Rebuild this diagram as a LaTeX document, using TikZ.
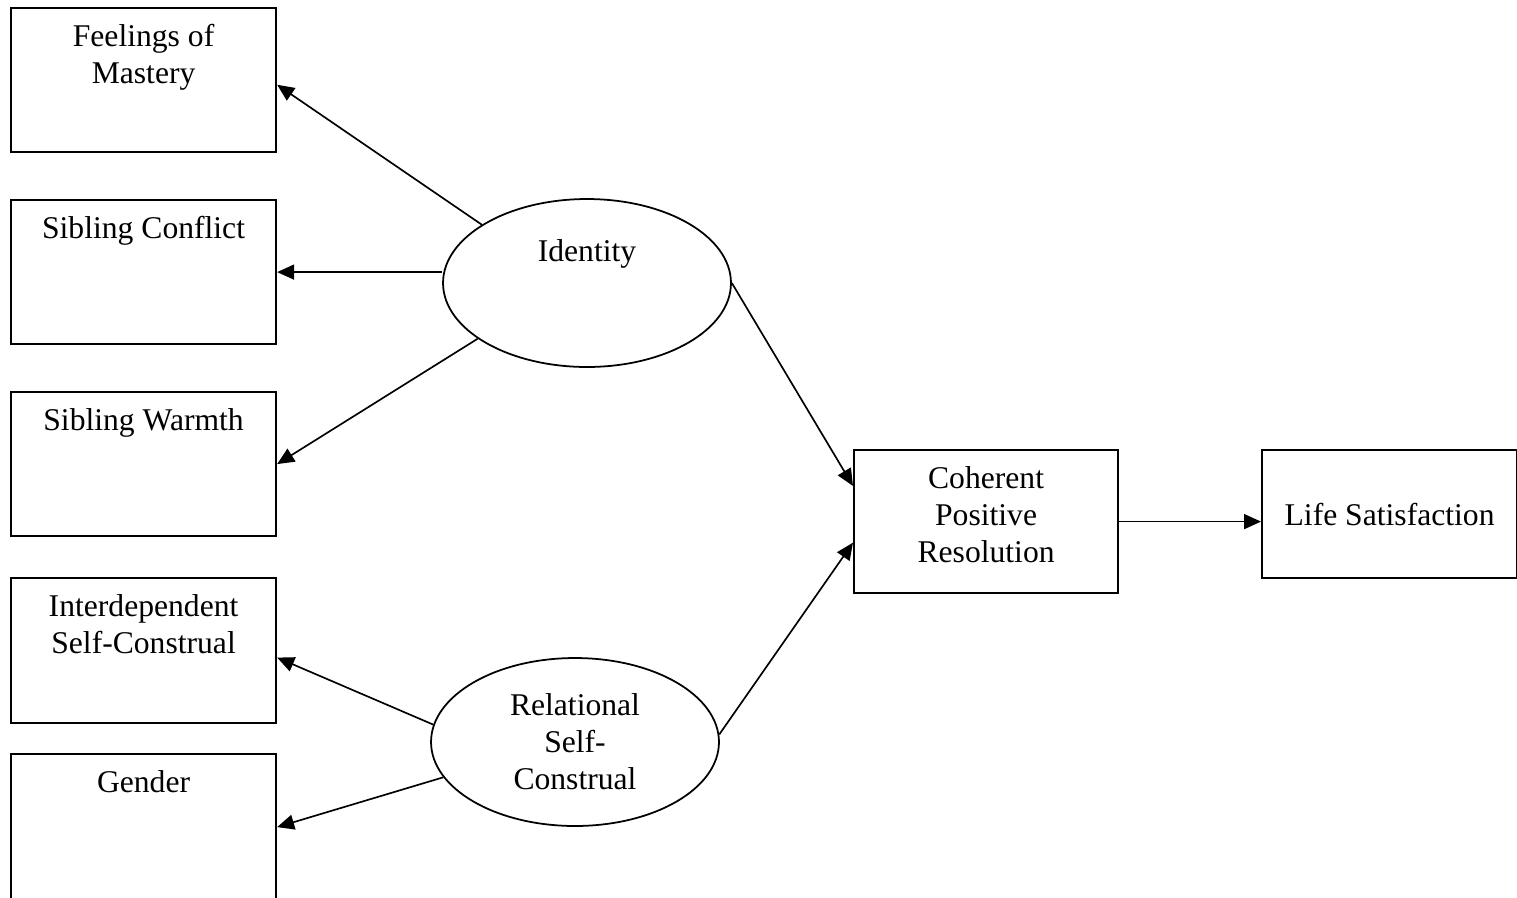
\documentclass[tikz,border=0pt]{standalone}
\usepackage{fontspec}
\setmainfont{Liberation Serif}
\usetikzlibrary{arrows.meta,shapes,positioning}
\tikzset{
  basic/.style   = {draw, line width=1.25pt, font=\fontsize{18}{21}\selectfont, align=center, inner sep=0pt},
  measure/.style = {basic, rectangle, minimum width=5.3cm, minimum height=2.88cm, anchor=north west},
  latent/.style  = {basic, ellipse, line width=1pt, minimum width=5.76cm, minimum height=3.36cm},
  toplabel/.style = {anchor=north, align=center, inner sep=0pt, yshift=-0.34cm, font=\fontsize{18}{21}\selectfont},
  link/.style    = {line width=0.95pt, -{Triangle[length=0.34cm, width=0.3cm]}}
}

\begin{document}
\begin{tikzpicture}[x=0.02cm, y=-0.02cm]
\useasboundingbox (0,0) rectangle (1517,897);
% indicators
\node[measure, label={[toplabel]north:{Feelings of\\Mastery}}] (mastery) at (10,7) {};
\node[measure, label={[toplabel]north:Sibling Conflict}] (conflict) at (10,199) {};
\node[measure, label={[toplabel]north:Sibling Warmth}] (warmth) at (10,391) {};
\node[measure, minimum height=2.9cm, label={[toplabel]north:{Interdependent\\Self-Construal}}] (interdep) at (10,577) {};
\node[measure, minimum height=2.92cm, label={[toplabel]north:Gender}] (gender) at (10,753) {};
% latent factors
\node[latent, label={[toplabel, yshift=-0.48cm]north:Identity}] (identity) at (587,283) {};
\node[latent] (relational) at (575,742) {Relational\\Self-\\Construal};
% outcomes
\node[measure, minimum width=5.28cm, minimum height=2.86cm, label={[toplabel]north:{Coherent\\Positive\\Resolution}}] (coherent) at (853,449) {};
\node[measure, minimum width=5.1cm, minimum height=2.56cm] (life) at (1261,449) {Life Satisfaction};
% paths
\draw[link] (identity.151) -- (mastery.-2);
\draw[link] (identity.west |- conflict.east) -- (conflict.east);
\draw[link] (identity.207) -- (warmth.east);
\draw[link] (identity.east) -- (coherent.165);
\draw[link] (relational.173) -- (interdep.357);
\draw[link] (relational.195) -- (gender.east);
\draw[link] (relational.3) -- (coherent.189);
\draw[link] (coherent.east) -- (coherent.east -| life.west);
\end{tikzpicture}
\end{document}
